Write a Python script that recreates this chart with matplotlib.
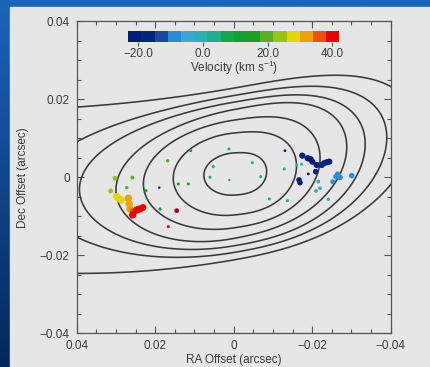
import numpy as np
import matplotlib.pyplot as plt
from matplotlib.colors import ListedColormap, BoundaryNorm, to_rgb
from matplotlib.patches import Rectangle
from matplotlib.ticker import MultipleLocator

plt.rcParams['font.family'] = ['Liberation Sans', 'DejaVu Sans']
plt.rcParams['mathtext.fontset'] = 'custom'
plt.rcParams['mathtext.rm'] = 'Liberation Sans'
plt.rcParams['mathtext.default'] = 'rm'

TXT = '#3c3c3c'
AX = '#555555'

# velocity colour table (km/s)
vel_colors = ['#001c7c', '#04257f', '#1848a0', '#2a8cd8', '#38a8dc', '#28b2b8',
              '#1eb08a', '#12a850', '#10a232', '#1ca020', '#58b020', '#98c412',
              '#e0d800', '#f0a000', '#f05000', '#ee0000']
vel_min, vel_max = -23.1, 42.2
vel_ticks = [-20, 0, 20, 40]

# continuum contours: half-widths toward +RA, toward -RA and in Dec (arcsec)
cont_apos = [0.0076, 0.0154, 0.0230, 0.0300, 0.0393, 0.0503, 0.160]
cont_aneg = [0.0084, 0.0160, 0.0220, 0.0288, 0.0335, 0.0390, 0.0463]
cont_b = [0.0054, 0.0105, 0.0138, 0.0165, 0.0184, 0.0201, 0.0220]
# tilt of each contour's ridge line, plus a common bend
cont_tilt = [-0.06, -0.10, -0.15, -0.19, -0.17, -0.17, -0.175]
ridge_dec0 = 0.0008
ridge_bend = 1.78
# the -RA side of the source is blunter than an ellipse
blunt_power = 2.7

# maser spots
spot_ra = [0.03024, 0.02583, 0.03134, 0.02726, 0.02981, 0.02940, 0.02871,
           0.02685, 0.02660, 0.02642, 0.02558, 0.02573, 0.02464, 0.02389, 0.02312,
           0.01682, 0.02234, 0.01878, 0.01411, 0.01157, 0.01096, 0.01452, 0.01666,
           0.00120, 0.00520, 0.00604, 0.00112, -0.00474, -0.00688, -0.00907,
           -0.01366, -0.01289, -0.01605, -0.01732,
           -0.01748, -0.01885, -0.01962, -0.02003, -0.02115, -0.02089, -0.01664, -0.01689,
           -0.02242, -0.02301, -0.02369, -0.02436,
           -0.02650, -0.02606, -0.02708, -0.03006, -0.02522,
           -0.02155, -0.02097, -0.02199, -0.02410,
           0.01896, -0.01307, -0.01901, 0.01452]
spot_dec = [-0.00028, -0.00013, -0.00353, -0.00269, -0.00499, -0.00540, -0.00584,
            -0.00540, -0.00686, -0.00815, -0.00884, -0.00968, -0.00840, -0.00815, -0.00776,
            0.00423, -0.00346, -0.00815, -0.00174, -0.00174, 0.00679, -0.00858, -0.01268,
            0.00722, 0.00269, -0.00003, -0.00072, 0.00371, 0.00013, -0.00558,
            -0.00602, 0.00210, 0.00312, 0.00330,
            0.00551, 0.00484, 0.00458, 0.00397, 0.00312, 0.00141, -0.00072, -0.00141,
            0.00312, 0.00356, 0.00382, 0.00397,
            0.00074, 0.00013, -0.00008, 0.00038, -0.00115,
            -0.00115, -0.00353, -0.00284, -0.00566,
            -0.00269, 0.00679, 0.00082, -0.00858]
spot_vel = [24, 20, 24, 19, 27, 27, 27,
            32, 32, 32, 36, 40, 40, 40, 39,
            18, 16, 14, 11, 11, 10, 40, 40,
            4, 4, 4, 3, 4, 4, 2,
            2, 2, 1, 1,
            -21, -21, -21, -21, -21, -21, -21, -21,
            -17, -17, -17, -17,
            -9, -9, -9, -9, -9,
            -1, -1, -1, -1,
            -21, -22, -22, -22]
spot_size = [12, 8, 12, 6, 28, 28, 28,
             28, 28, 28, 28, 28, 28, 28, 24,
             6, 5, 5, 5, 5, 5, 12, 5,
             5, 5, 5, 3, 5, 5, 5,
             5, 5, 5, 5,
             20, 20, 20, 20, 20, 16, 16, 16,
             20, 20, 20, 20,
             16, 16, 16, 16, 12,
             7, 7, 7, 6,
             3, 4, 4, 3]

fig = plt.figure(figsize=(4.31, 3.67), dpi=100)

# slide background with the light panel on top
bg = fig.add_axes([0, 0, 1, 1])
top, bot = np.array(to_rgb('#1c64ba')), np.array(to_rgb('#03275c'))
t = np.linspace(0, 1, 256)[:, None]
grad = (top * (1 - t) + bot * t)[:, None, :]
bg.imshow(grad, extent=[0, 431, 367, 0], aspect='auto')
bg.add_patch(Rectangle((10, 7), 421, 360, color='#e6e6e6'))
bg.set_xlim(0, 431)
bg.set_ylim(367, 0)
bg.axis('off')

ax = fig.add_axes([76.7 / 431, 1 - 333.3 / 367, 314 / 431, 312.3 / 367])
ax.set_facecolor('none')

ra = np.linspace(-0.07, 0.22, 1200)
dec = np.linspace(-0.06, 0.06, 600)
RA, DEC = np.meshgrid(ra, dec)
for apos, aneg, b, tilt in zip(cont_apos, cont_aneg, cont_b, cont_tilt):
    v = DEC - (ridge_dec0 + tilt * RA + ridge_bend * RA ** 2)
    g = np.where(RA >= 0, (RA / apos) ** 2, np.abs(RA / aneg) ** blunt_power) + (v / b) ** 2
    ax.contour(RA, DEC, g, levels=[1.0], colors='#3a3a3a', linewidths=1.15)

cmap = ListedColormap(vel_colors)
norm = BoundaryNorm(np.linspace(vel_min, vel_max, len(vel_colors) + 1), cmap.N)
sc = ax.scatter(spot_ra, spot_dec, c=spot_vel, s=spot_size, cmap=cmap, norm=norm,
                linewidths=0, zorder=3)

ax.set_xlim(0.04, -0.04)
ax.set_ylim(-0.04, 0.04)
major = [-0.04, -0.02, 0, 0.02, 0.04]
labels = ['\u22120.04', '\u22120.02', '0', '0.02', '0.04']
ax.set_xticks(major)
ax.set_xticklabels(labels)
ax.set_yticks(major)
ax.set_yticklabels(labels)
ax.xaxis.set_minor_locator(MultipleLocator(0.005))
ax.yaxis.set_minor_locator(MultipleLocator(0.005))
ax.tick_params(which='both', direction='in', top=True, right=True, color=AX,
               width=0.8, labelsize=8.5, labelcolor=TXT)
ax.tick_params(which='major', length=5, pad=5)
ax.tick_params(which='minor', length=3)
for s in ax.spines.values():
    s.set_color(AX)
    s.set_linewidth(0.9)
ax.set_xlabel('RA Offset (arcsec)', fontsize=8.5, color=TXT, labelpad=1)
ax.set_ylabel('Dec Offset (arcsec)', fontsize=8.5, color=TXT, labelpad=8)

cax = fig.add_axes([128.3 / 431, 1 - 42 / 367, 211 / 431, 11.3 / 367])
cb = fig.colorbar(sc, cax=cax, orientation='horizontal')
cb.outline.set_visible(False)
cb.set_ticks(vel_ticks)
cb.set_ticklabels(['\u221220.0', '0.0', '20.0', '40.0'])
cax.tick_params(direction='out', length=3, width=0.8, color=AX, labelsize=8.5,
                labelcolor=TXT, pad=1.5)
cax.minorticks_off()
cb.set_label('Velocity (km s$^{-1}$)', fontsize=8.5, color=TXT, labelpad=-1)

fig.savefig('out.png', dpi=100)
